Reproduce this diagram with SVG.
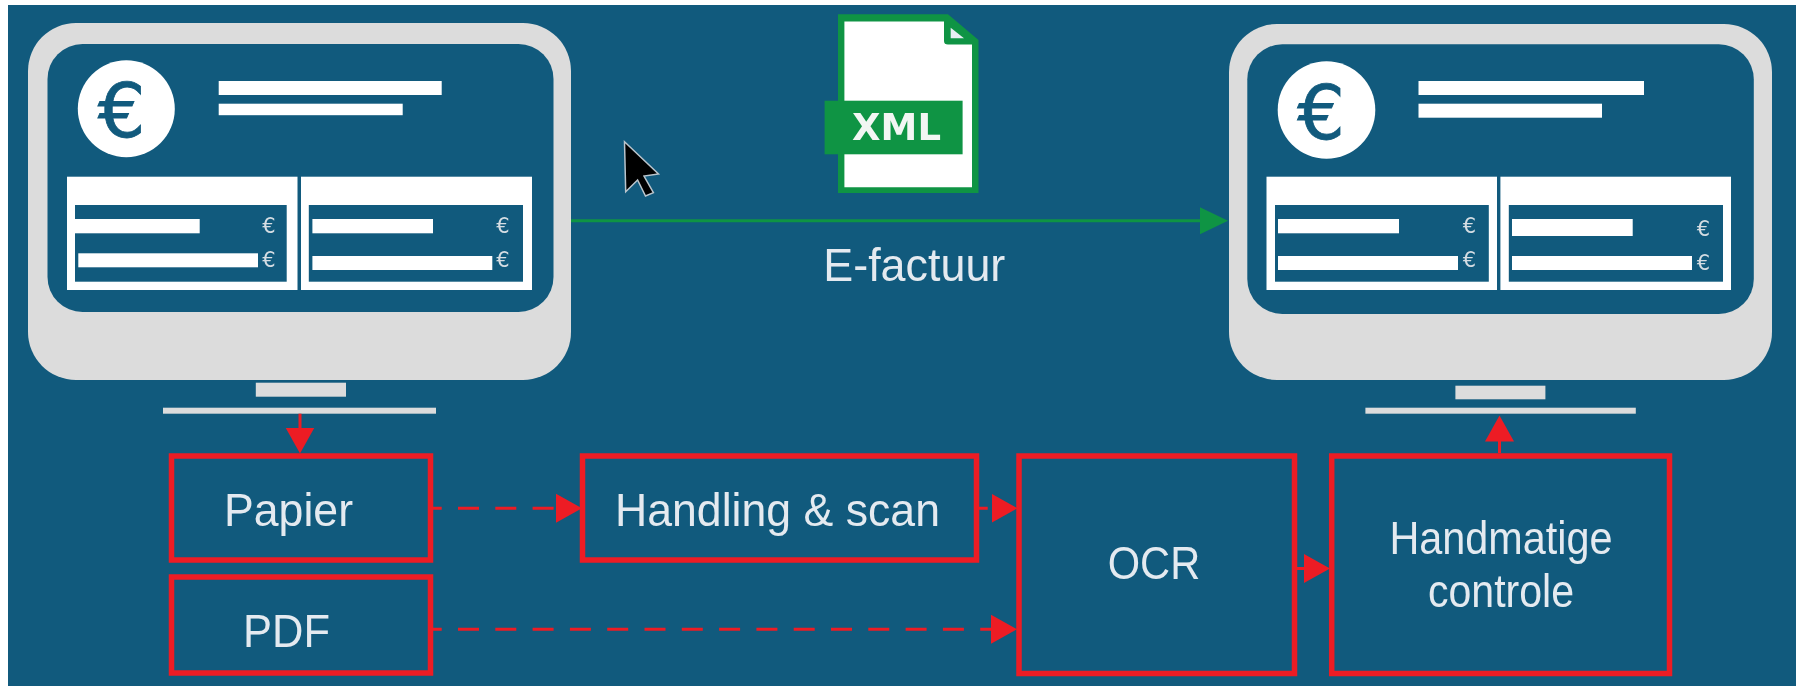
<svg xmlns="http://www.w3.org/2000/svg" width="1803" height="686" viewBox="0 0 1803 686">
<style>
.bg{fill:#115a7d}
.case{fill:#dcdcdc}
.white{fill:#fff}
.box{fill:none;stroke:#ed1c24;stroke-width:5.500}
.lbl{font-family:"Liberation Sans",Arial,sans-serif;font-size:46px;fill:#e4eaf0;text-anchor:middle}
.eur{font-family:"DejaVu Sans",sans-serif;font-size:75px;fill:#115a7d;stroke:#115a7d;stroke-width:0.800;text-anchor:middle}
.ceur{font-family:"DejaVu Sans",sans-serif;font-size:21px;fill:#d5dde3;text-anchor:middle}
.red{fill:none;stroke:#ed1c24;stroke-width:3}
.dash{stroke-dasharray:21 16.300}
.green{fill:none;stroke:#0f9444;stroke-width:3}
</style>
<defs>
<filter id="soft" filterUnits="userSpaceOnUse" x="0" y="0" width="1803" height="686" color-interpolation-filters="sRGB"><feGaussianBlur stdDeviation="0.700"/></filter>
<marker id="hr" markerUnits="userSpaceOnUse" markerWidth="28" markerHeight="30" viewBox="0 0 28 30" refX="22" refY="15" orient="auto"><path d="M0 0.500L26 15L0 29.500Z" fill="#ed1c24"/></marker>
<marker id="hg" markerUnits="userSpaceOnUse" markerWidth="30" markerHeight="30" viewBox="0 0 30 30" refX="24" refY="15" orient="auto"><path d="M0 1.500L28 15L0 28.500Z" fill="#0f9444"/></marker>
</defs>
<rect width="1803" height="686" fill="#fff"/>
<g id="picture" filter="url(#soft)">
<rect class="bg" x="8" y="5" width="1788" height="681"/>

<g id="monitor-left">
<rect class="case" x="28" y="23" width="543" height="357" rx="48"/>
<rect class="bg" x="47.500" y="44" width="506" height="268" rx="35"/>
<circle class="white" cx="126.300" cy="108.700" r="48.500"/>
<text class="eur" x="121.500" y="136.500">€</text>
<rect class="white" x="218.700" y="81" width="223" height="14"/>
<rect class="white" x="218.700" y="103.700" width="184" height="11.500"/>
<rect class="white" x="67" y="176.700" width="230.500" height="113.300"/>
<rect class="bg" x="75" y="205" width="211.700" height="76.700"/>
<rect class="white" x="75" y="219" width="124.700" height="14.300"/>
<rect class="white" x="78.300" y="253.300" width="179.700" height="14"/>
<text class="ceur" x="269" y="233">€</text>
<text class="ceur" x="269" y="266.500">€</text>
<rect class="white" x="301" y="176.700" width="231" height="113.300"/>
<rect class="bg" x="308.800" y="205" width="214.200" height="76.700"/>
<rect class="white" x="312.400" y="219" width="120.600" height="14.300"/>
<rect class="white" x="312.400" y="256" width="179.900" height="14"/>
<text class="ceur" x="503" y="233">€</text>
<text class="ceur" x="503" y="266.500">€</text>
<rect class="case" x="255.800" y="382.700" width="90.200" height="14"/>
<rect class="case" x="163" y="407.700" width="273" height="6"/>
</g>

<g id="monitor-right">
<rect class="case" x="1229" y="24" width="543" height="356" rx="48"/>
<rect class="bg" x="1247.300" y="44.300" width="506.500" height="269.700" rx="35"/>
<circle class="white" cx="1326.500" cy="110" r="48.800"/>
<text class="eur" x="1321" y="139">€</text>
<rect class="white" x="1418.500" y="81" width="225.500" height="14"/>
<rect class="white" x="1418.500" y="103.700" width="183.500" height="14"/>
<rect class="white" x="1266.500" y="176.700" width="230.500" height="113.300"/>
<rect class="bg" x="1275" y="205" width="213.800" height="76.700"/>
<rect class="white" x="1278" y="219" width="121" height="14.300"/>
<rect class="white" x="1278" y="256" width="180" height="14"/>
<text class="ceur" x="1469.500" y="233">€</text>
<text class="ceur" x="1469.500" y="266.500">€</text>
<rect class="white" x="1500.400" y="176.700" width="230.600" height="113.300"/>
<rect class="bg" x="1508.800" y="205" width="214.200" height="76.700"/>
<rect class="white" x="1512" y="219" width="120.700" height="17"/>
<rect class="white" x="1512" y="256" width="180" height="14"/>
<text class="ceur" x="1703.500" y="236">€</text>
<text class="ceur" x="1703.500" y="270">€</text>
<rect class="case" x="1455.400" y="385.700" width="90" height="13.600"/>
<rect class="case" x="1365.400" y="407.700" width="270.400" height="6"/>
</g>

<g id="xml-file">
<path d="M838 14.300H948L978.500 40V193H838Z" fill="#0f9444"/>
<path d="M844.400 21.500H944V41Q944 44.500 948 44.500H972V187.300H844.400Z" class="white"/>
<path d="M950.700 27.700V38.300H964Z" fill="#e8eef3"/>
<rect x="824.600" y="100.700" width="138" height="53.600" fill="#0f9444"/>
<text x="896.500" y="140" font-family="DejaVu Sans,sans-serif" font-weight="bold" font-size="37" fill="#f2f6f3" text-anchor="middle">XML</text>
</g>

<path id="cursor" d="M624.500 141.700L625.700 191.700L637.600 180L645.500 196L653.400 192.700L644 176L658.500 174Z" fill="#000" stroke="#b9c4cc" stroke-width="1.500"/>

<text id="label-e-factuur" class="lbl" x="914.300" y="281" textLength="182" lengthAdjust="spacingAndGlyphs">E-factuur</text>

<g id="node-papier">
<rect class="box" x="171.500" y="456" width="259" height="104"/>
<text class="lbl" x="288.500" y="526" textLength="129" lengthAdjust="spacingAndGlyphs">Papier</text>
</g>
<g id="node-pdf">
<rect class="box" x="171.500" y="577" width="259" height="96"/>
<text class="lbl" x="286.500" y="647" textLength="87" lengthAdjust="spacingAndGlyphs">PDF</text>
</g>
<g id="node-handling">
<rect class="box" x="582.500" y="456" width="394" height="104"/>
<text class="lbl" x="777.500" y="526" textLength="325" lengthAdjust="spacingAndGlyphs">Handling &amp; scan</text>
</g>
<g id="node-ocr">
<rect class="box" x="1019" y="456" width="275.500" height="217.500"/>
<text class="lbl" x="1154" y="579.300" textLength="92.500" lengthAdjust="spacingAndGlyphs">OCR</text>
</g>
<g id="node-handmatige">
<rect class="box" x="1331.700" y="456" width="337.800" height="217.500"/>
<text class="lbl" x="1501" y="554" textLength="223" lengthAdjust="spacingAndGlyphs">Handmatige</text>
<text class="lbl" x="1501" y="607" textLength="146" lengthAdjust="spacingAndGlyphs">controle</text>
</g>

<g id="connectors">
<line class="green" x1="571" y1="220.700" x2="1224" y2="220.700" marker-end="url(#hg)"/>
<line class="red" x1="300" y1="413.700" x2="300" y2="449.500" marker-end="url(#hr)"/>
<line class="red dash" stroke-dashoffset="12.300" x1="433" y1="508.300" x2="578" y2="508.300" marker-end="url(#hr)"/>
<line class="red dash" stroke-dashoffset="12.300" x1="979" y1="508.300" x2="1013.500" y2="508.300" marker-end="url(#hr)"/>
<line class="red dash" stroke-dashoffset="12.300" x1="433" y1="629.300" x2="1013" y2="629.300" marker-end="url(#hr)"/>
<line class="red" x1="1297" y1="568.500" x2="1326" y2="568.500" marker-end="url(#hr)"/>
<line class="red" x1="1499.500" y1="453" x2="1499.500" y2="419.500" marker-end="url(#hr)"/>
</g>
</g>
</svg>
